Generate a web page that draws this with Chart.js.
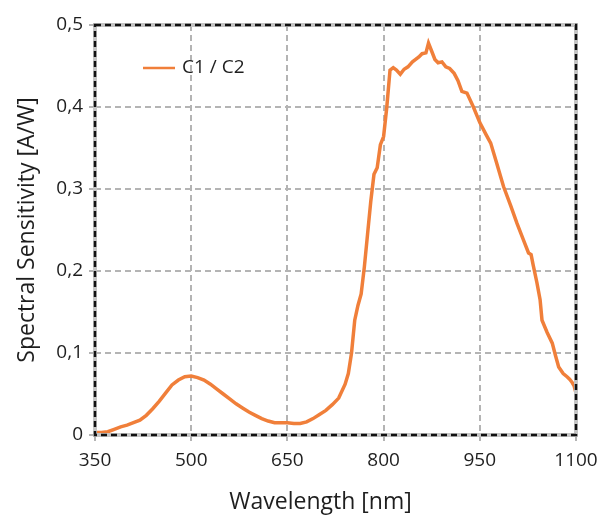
<!DOCTYPE html>
<html>
<head>
<meta charset="utf-8">
<script src="https://cdn.jsdelivr.net/npm/chart.js@4/dist/chart.umd.min.js"></script>
<style>
    html, body { margin: 0; padding: 0; background: #fff; }
    #wrap { width: 609px; height: 520px; }
</style>
</head>
<body>
<div id="wrap"><canvas id="chart"></canvas></div>
<script>
// wavelength in nm
var wavelengths = [350, 360, 370, 380, 390, 400, 410, 420, 430, 440, 450, 460, 470, 480, 490, 500,
    510, 520, 530, 540, 550, 560, 570, 580, 590, 600, 610, 620, 630, 640, 650, 660, 670, 680, 690,
    700, 710, 720, 730, 740, 745, 750, 755, 760, 765, 770, 775, 780, 785, 790, 795, 800, 805, 810,
    815, 820, 826, 832, 838, 845, 850, 855, 860, 866, 870, 875, 880, 885, 891, 897, 903, 910, 916,
    922, 930, 940, 950, 960, 967, 975, 987, 998, 1008, 1018, 1026, 1030, 1033, 1039, 1044, 1047,
    1055, 1063, 1068, 1073, 1080, 1086, 1090, 1094, 1097, 1100];

// spectral sensitivity in A/W
var sensitivity = [0.003, 0.003, 0.004, 0.007, 0.010, 0.012, 0.015, 0.018, 0.024, 0.032, 0.041,
    0.051, 0.061, 0.067, 0.071, 0.072, 0.070, 0.067, 0.062, 0.056, 0.050, 0.044, 0.038, 0.033,
    0.028, 0.024, 0.020, 0.017, 0.015, 0.015, 0.015, 0.014, 0.014, 0.016, 0.020, 0.025, 0.030,
    0.037, 0.045, 0.062, 0.075, 0.100, 0.140, 0.158, 0.172, 0.205, 0.245, 0.285, 0.318, 0.326,
    0.354, 0.364, 0.400, 0.445, 0.448, 0.445, 0.440, 0.446, 0.449, 0.455, 0.458, 0.461, 0.465,
    0.466, 0.478, 0.468, 0.458, 0.454, 0.455, 0.449, 0.447, 0.441, 0.432, 0.419, 0.417, 0.400,
    0.381, 0.366, 0.356, 0.335, 0.303, 0.280, 0.258, 0.238, 0.222, 0.220, 0.208, 0.186, 0.165,
    0.140, 0.125, 0.112, 0.097, 0.083, 0.075, 0.071, 0.068, 0.064, 0.060, 0.051];

var xTicks = [350, 500, 650, 800, 950, 1100];
var yTicks = [0, 0.1, 0.2, 0.3, 0.4, 0.5];
var seriesName = 'C1 / C2';

var orange = '#f07f3a';
var textColor = '#1e1e1e';
var fontFamily = "'Open Sans', 'DejaVu Sans', sans-serif";

var points = [];
for (var i = 0; i < wavelengths.length; i++) {
    points.push({ x: wavelengths[i], y: sensitivity[i] });
}

// chart area frame: grey solid line with black dashes on top
var framePlugin = {
    id: 'frame',
    afterDatasetsDraw: function (chart) {
        var a = chart.chartArea;
        var ctx = chart.ctx;
        ctx.save();
        ctx.lineWidth = 4;
        ctx.strokeStyle = '#c4c4c4';
        ctx.setLineDash([]);
        ctx.strokeRect(a.left, a.top, a.right - a.left, a.bottom - a.top);
        ctx.lineWidth = 2.5;
        ctx.strokeStyle = '#111';
        ctx.setLineDash([6, 4]);
        ctx.strokeRect(a.left, a.top, a.right - a.left, a.bottom - a.top);
        ctx.restore();
    }
};

// legend sits inside the plot, top left
var innerLegend = {
    id: 'innerLegend',
    afterDraw: function (chart) {
        var a = chart.chartArea;
        var ctx = chart.ctx;
        var x = a.left + 48, y = a.top + 43;
        ctx.save();
        ctx.strokeStyle = orange;
        ctx.lineWidth = 2.5;
        ctx.beginPath();
        ctx.moveTo(x, y);
        ctx.lineTo(x + 32, y);
        ctx.stroke();
        ctx.fillStyle = textColor;
        ctx.font = '19px ' + fontFamily;
        ctx.textBaseline = 'middle';
        ctx.fillText(seriesName, x + 39, y);
        ctx.restore();
    }
};

new Chart(document.getElementById('chart'), {
    type: 'scatter',
    data: {
        datasets: [{
            label: seriesName,
            data: points,
            showLine: true,
            borderColor: orange,
            borderWidth: 3.5,
            pointRadius: 0,
            tension: 0
        }]
    },
    options: {
        responsive: true,
        maintainAspectRatio: false,
        animation: false,
        layout: { padding: { top: 25, right: 33, bottom: 0, left: 0 } },
        plugins: {
            legend: { display: false },
            tooltip: { enabled: false }
        },
        scales: {
            x: {
                type: 'linear',
                min: 350,
                max: 1100,
                afterBuildTicks: function (scale) {
                    scale.ticks = xTicks.map(function (v) { return { value: v }; });
                },
                afterFit: function (scale) { scale.height = 85; },
                ticks: {
                    color: textColor,
                    font: { family: fontFamily, size: 19 },
                    padding: 8,
                    maxRotation: 0,
                    callback: function (v) { return String(v); }
                },
                grid: { color: '#b4b4b4', lineWidth: 2, tickLength: 6 },
                border: { display: false, dash: [6, 4] },
                title: {
                    display: true,
                    // trailing spaces nudge the centred title a bit to the left
                    text: 'Wavelength [nm]     ',
                    color: textColor,
                    font: { family: fontFamily, size: 23 },
                    padding: { top: 0, bottom: 4 }
                }
            },
            y: {
                min: 0,
                max: 0.5,
                afterBuildTicks: function (scale) {
                    scale.ticks = yTicks.map(function (v) { return { value: v }; });
                },
                afterFit: function (scale) { scale.width = 95; },
                ticks: {
                    color: textColor,
                    font: { family: fontFamily, size: 19 },
                    padding: 6,
                    callback: function (v) { return String(v).replace('.', ','); }
                },
                grid: { color: '#b4b4b4', lineWidth: 2, tickLength: 6 },
                border: { display: false, dash: [6, 4] },
                title: {
                    display: true,
                    text: 'Spectral Sensitivity [A/W]',
                    color: textColor,
                    font: { family: fontFamily, size: 23 },
                    padding: { top: 14, bottom: 0 }
                }
            }
        }
    },
    plugins: [framePlugin, innerLegend]
});
</script>
</body>
</html>
